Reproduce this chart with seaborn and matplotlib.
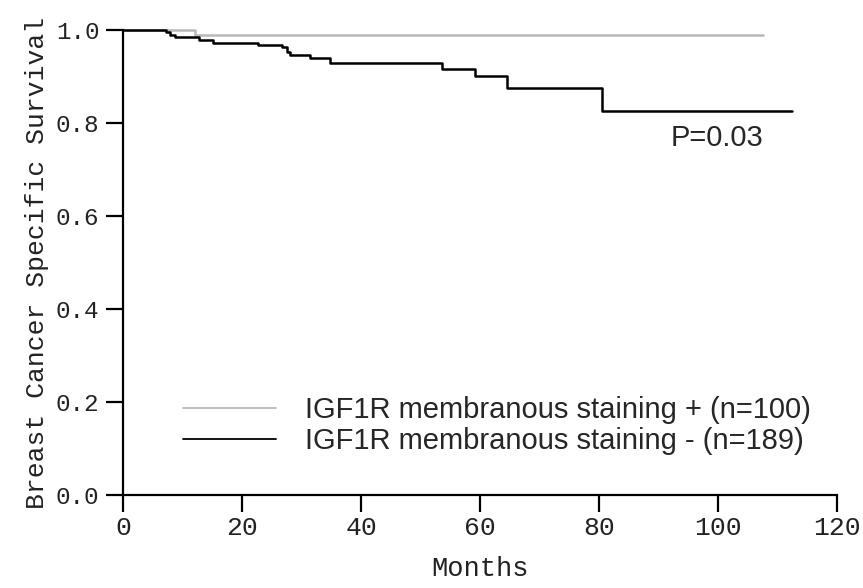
import matplotlib
matplotlib.use("Agg")
import matplotlib.pyplot as plt
import seaborn as sns
import pandas as pd

# ---- data ----
pos_label = "IGF1R membranous staining + (n=100)"
neg_label = "IGF1R membranous staining - (n=189)"

pos_months = [0.0, 12.1, 107.6]
pos_surv = [1.0, 0.990, 0.990]

neg_months = [0.0, 7.3, 7.9, 8.7, 12.7, 15.1, 22.7, 26.7, 27.5, 28.1,
              31.4, 34.8, 53.6, 59.2, 64.5, 80.5, 112.4]
neg_surv = [1.0, 0.995, 0.989, 0.984, 0.979, 0.973, 0.968, 0.963, 0.953, 0.946,
            0.939, 0.928, 0.916, 0.902, 0.875, 0.826, 0.826]

x_ticks = [0, 20, 40, 60, 80, 100, 120]
y_ticks = [0.0, 0.2, 0.4, 0.6, 0.8, 1.0]
y_ticklabels = ["0.0", "0.2", "0.4", "0.6", "0.8", "1.0"]
p_text = "P=0.03"

df = pd.DataFrame({
    "Months": pos_months + neg_months,
    "Survival": pos_surv + neg_surv,
    "Group": [pos_label] * len(pos_months) + [neg_label] * len(neg_months),
})

sns.set_style("ticks")
plt.rcParams["font.family"] = ["Liberation Mono", "DejaVu Sans Mono"]

fig = plt.figure(figsize=(8.63, 5.88), dpi=100)
ax = fig.add_axes([123 / 863, (588 - 495) / 588, 714 / 863, 465 / 588])

sns.lineplot(data=df, x="Months", y="Survival", hue="Group",
             palette={pos_label: "#b8b8b8", neg_label: "#000000"},
             drawstyle="steps-post", linewidth=1.8, estimator=None,
             clip_on=False, ax=ax)

ax.set_xlim(0, 120)
ax.set_ylim(0, 1.0)
ax.set_xticks(x_ticks)
ax.set_yticks(y_ticks)
ax.set_yticklabels(y_ticklabels)

for s in ["top", "right"]:
    ax.spines[s].set_visible(False)
for s in ["left", "bottom"]:
    ax.spines[s].set_linewidth(1.6)
    ax.spines[s].set_color("black")

ax.tick_params(axis="both", length=12, width=1.6, color="black",
               labelcolor="#222222")
ax.tick_params(axis="x", pad=3, labelsize=19)
ax.tick_params(axis="y", pad=5, labelsize=17.5)

ax.set_xlabel("Months", fontsize=19.5, color="#222222", labelpad=12)
ax.set_ylabel("Breast Cancer Specific Survival", fontsize=19, color="#222222",
              labelpad=5)

ax.text(92, 0.768, p_text, fontsize=21, va="center", ha="left",
        family=["Liberation Sans", "DejaVu Sans"])

leg = ax.legend(loc="upper left", bbox_to_anchor=(0.084, 0.212),
                frameon=False, borderaxespad=0, borderpad=0,
                handlelength=3.2, handletextpad=1.0, labelspacing=0.08,
                prop={"family": ["Liberation Sans", "DejaVu Sans"], "size": 21})
for line in leg.get_lines():
    line.set_linewidth(1.3)
leg.set_title(None)

fig.savefig("out.png", dpi=100)
